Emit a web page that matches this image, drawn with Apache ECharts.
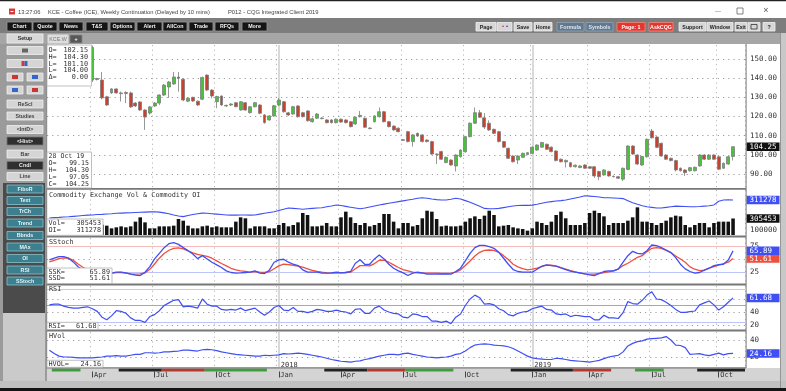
<!DOCTYPE html>
<html>
<head>
<meta charset="utf-8">
<script src="https://cdn.jsdelivr.net/npm/echarts@6/dist/echarts.min.js"></script>
<style>
html,body{margin:0;padding:0;background:#bdbdbd;overflow:hidden}
#chart{width:786px;height:391px}
</style>
</head>
<body>
<div id="chart"></div>
<script>
// ---------------- data ----------------
const firstWeek = '2017-01-30';
const weekCount = 146;
const monthNames = ['Jan','Feb','Mar','Apr','May','Jun','Jul','Aug','Sep','Oct','Nov','Dec'];
const priceTicks = [90,100,110,120,130,140,150];
const volTicks = [100000];
const stochTicks = [75,25];
const rsiTicks = [60,40,20];
const hvolTicks = [40,20];
const dataWindowTop = [['O=','102.15'],['H=','104.30'],['L=','101.10'],['L=','104.00'],['\u0394=','0.00']];

const open = [146,145,143,141,142,140,139,137.5,138,139,
139.8,139,130.3,132.3,134.4,131.9,132.5,132.3,127,127.6,
123.4,121.8,125.5,127,131.2,135.4,137,140.6,139.4,128,
130,128,129,141.6,133.8,127.7,130.7,125.8,126,127.2,
123.4,127.2,122,125.1,126,120.8,118.2,120.3,126,127.7,
121.9,121.3,125.5,122,122.9,117.3,119.1,118.9,118.2,118.2,
116.8,118.6,118.2,117.3,116.1,119.9,119.1,113.7,117.3,119.9,
122.5,117.3,115,113.9,107.9,112.1,106.9,111.2,110.4,107.7,
106.9,100.4,101.7,96,97.3,94.2,99,101.6,109.5,116.5,
122,119.3,116.5,113.3,112.1,106.9,103.4,99.4,97.3,98.7,
100.2,100.8,102.5,104,105.5,104,102,97.7,96.3,95.9,
93.8,93.4,94.7,93.8,93.8,91.3,89.5,91.3,88.8,88.6,
87.3,92.4,104.6,99.9,94.7,99,112.4,109.3,106,99.9,
98.2,97,93,92.1,91.7,91.7,94.2,99.9,97.7,99.9,
99,93,95.2,99.15];
const close = [145,143,141,142,140,139,137.8,138,138.5,156,
139.3,129.7,126,134.4,132.3,132.3,132,125,125.5,123.4,
119.7,125,127,131.2,136.4,138,140.6,140,128.6,129.5,
128.1,126,140.4,133.8,130.7,130.4,126,125.5,126.5,125.1,
127.7,123.4,125.1,127.2,121.7,116.8,120.3,125.6,128.6,122.5,
120.8,125.1,119.9,119.9,117.8,118.8,121.3,119.2,116.8,116.8,
118.6,117.1,116.8,114.7,119.6,120.6,114.4,114,120.3,122.5,
117.3,114.7,113,112.1,107.6,106.9,110.4,109.8,106.9,106.9,
100.4,100.2,97.7,98.7,94.7,99.9,102.5,109.5,116.5,122,
119.6,114.5,113,111.2,106.9,104,98.2,96.4,99.4,100.8,
101.1,104,105.1,106.4,102.9,101.7,97,96.4,97.1,93.8,
94.6,94.2,93,93,89,88.6,92.1,89,88.6,87.8,
93,104.6,100.4,95.2,99.1,108.1,108.9,103.9,99.4,97.7,
97,92.1,91.7,90.7,93.3,93.5,99.9,97.7,99.9,97.7,
92.5,95.6,99,104.25];
const high = [148,147,145,144,143,141,140,138.5,139,157,
140.2,143.2,130.8,134.8,134.6,133,133.2,133,127.5,128,
123.8,125.5,127.6,131.5,137,138.5,143.2,143.2,140,130,
130.3,128.3,140.8,142,134.2,130.8,131,126.2,127,127.6,
128,127.6,125.5,127.6,126.4,121.2,120.7,126,129.6,128.1,
122.4,125.6,125.9,122.4,123.3,119.5,121.8,119.6,118.6,118.6,
119,119,118.6,117.7,120,122.9,119.5,114.3,120.7,124.7,
122.9,117.7,115.4,114.3,108.3,112.5,110.8,111.6,110.8,108.1,
107.3,100.8,102.1,99.1,97.7,100.3,102.9,109.9,116.9,124.7,
123.4,121.8,118,113.7,112.5,107.3,103.8,99.8,99.8,101.2,
101.5,104.4,105.5,106.8,105.9,104.4,102.4,98.1,97.5,96.3,
95,94.6,95.1,94.2,94.2,91.7,92.5,91.7,89.2,89,
93.4,105,105,100.3,99.5,108.5,113.5,109.7,106.4,100.3,
98.6,97.4,93.4,92.5,93.7,93.9,100.3,100.3,100.3,100.3,
99.4,96,99.4,104.3];
const low = [144,142,140,139,139,138,137,136.8,137,138,
138.8,129,125.5,131.8,132,127.8,127,124.5,125,122.9,
113,121,125,126,130.7,129.7,136.5,133,128,127.5,
127.6,125.5,128.5,133.3,129.5,124.3,125.5,125,125.5,124.8,
123,123,121.5,124.7,121.2,116.3,117.8,119.9,125.5,122,
120.3,120.9,119.4,119.5,117.3,116.8,118.7,118.5,116.4,116.4,
116.4,116.7,116.4,114.3,115.7,119.5,114,113.3,116.9,119.5,
116.9,114.3,112.6,111.7,107.2,106.5,104.3,109.4,106.5,106.5,
100,95.2,97.3,95.6,94.3,91.3,98.6,101.2,109.1,116.1,
119.2,113.5,112.5,110.8,106.5,103.6,97.8,96,95.2,98.3,
99.8,100.4,102.1,103.6,102.5,101.3,96.6,96,93.4,93.4,
93.4,93,92.6,92.6,88,86.8,89.1,88.6,88.2,87.4,
86.3,92,100,94.8,94.3,98.6,108.5,103.5,99,97.3,
96.6,91.3,91.3,89,91.3,91.3,93.8,97.3,97.3,97.3,
92.1,92.6,94.8,97.05];
const volume = [170000,150000,160000,180000,175000,165000,150000,160000,170000,200000,180000,190000,
173000,123000,142000,160000,142000,160000,247000,327000,
234000,123000,123000,160000,160000,160000,173000,296000,265000,173000,
123000,123000,160000,173000,142000,160000,142000,142000,142000,247000,
327000,309000,123000,160000,160000,160000,123000,123000,185000,222000,
160000,185000,234000,407000,370000,160000,160000,173000,222000,160000,
160000,327000,432000,327000,222000,185000,222000,
160000,185000,222000,
389000,389000,247000,123000,222000,222000,160000,185000,309000,450000,
432000,296000,160000,173000,160000,160000,173000,247000,309000,345000,
296000,358000,450000,370000,160000,173000,185000,142000,123000,111000,
80000,123000,247000,222000,185000,247000,370000,432000,309000,185000,
185000,185000,222000,407000,450000,407000,345000,185000,222000,222000,
222000,265000,327000,512000,
247000,247000,222000,185000,222000,265000,327000,358000,345000,185000,
142000,185000,222000,222000,142000,222000,247000,247000,247000,305453];
const openInterest = [223000,225000,226000,228000,229000,231000,233000,235000,237000,
238000,240000,241000,243000,244000,246000,247000,
248000,249000,250000,251000,252000,253000,254000,
252000,248000,244000,238000,233000,230000,
235000,240000,244000,247000,
246000,244000,242000,240000,238000,237000,
237000,238000,238000,237000,238000,
242000,246000,250000,254000,
260000,266000,272000,
270000,268000,266000,
268000,270000,272000,273000,
278000,282000,287000,
284000,280000,276000,272000,
268000,272000,
277000,282000,287000,
291000,295000,299000,303000,
307000,311000,315000,320000,
322000,320000,
316000,313000,311000,311000,
315000,320000,
316000,308000,300000,
290000,280000,270000,
268000,268000,270000,
274000,278000,282000,284000,
285000,285000,286000,
290000,295000,300000,
303000,306000,308000,311000,
316000,321000,326000,332000,
330000,328000,326000,322000,
322000,321000,320000,318000,
308000,298000,290000,
283000,278000,275000,272000,
272000,275000,278000,281000,
280000,279000,278000,278000,279000,
281000,283000,287000,
305000,311000,312000,311278];
const stochK = [49,52,55,55,52,45,36,30,26,22,22,24,25,
23.7,25.6,25.6,24.3,21.8,20,19.3,25.6,
36.2,50.6,61.2,71.9,79.3,81.2,78,71.9,66.2,60,
51.2,56.8,50.6,44.4,39.4,34.4,28.1,25,23.7,24.3,
25,25.6,28.1,23.7,23.1,29.4,44.4,48.7,50,44.4,
40.6,38.1,30,25.6,25.6,25.6,23.7,23.7,24.3,25.6,
24.3,25,26.9,42.5,49,40,
40.6,50.6,58.1,50.6,40.6,33.1,28.1,24.4,19.3,23.7,
25.6,24.4,21.8,21.8,21.8,21.8,21.8,21.8,26.9,33.1,
46.8,61.2,71.9,76.2,76.2,73.7,70.6,63,51.9,40.6,
30.6,26.9,25.6,25.6,25.6,31.2,36.9,39.4,38.1,36.9,
33.7,30.6,27.5,25.6,24.4,22.4,20.6,19.3,23.1,26.9,
28.1,28.1,31.2,44.4,56.8,65,61.2,
60,66.2,76.9,75.6,71.9,67.5,62.5,53.1,40.6,31.9,
26.9,23.7,25,29.4,33.1,38.1,40,40.6,48.7,65.89];
const stochD = [45,48,51,52.5,52,48,41,35,30,26,24,23,23,
23.7,24.9,25,23.7,22.4,21.8,22.4,24.3,
31,41,52,61,67,70.6,71.5,69.4,66,62,
59,57.4,55.6,52,47,42,37.5,33,30,28,
27,25.6,26.5,25.6,25,26.5,32,37.5,40.6,40,
38.7,37,35,32,29,27,25.6,24.3,23.7,23.7,
24.3,25,25.6,32,38,38.1,
37.5,41.9,48.1,48.1,44.4,39.4,34.4,30.6,28.1,25.6,
24.4,23.7,23.7,23.7,23.7,23.1,23.1,23.7,25.6,30,
38.1,46.8,56.2,63.1,66.8,67.5,66.8,63.1,56.8,49.4,
40.6,35.6,32.5,30,31.2,33.1,36.2,38.7,38.7,36.9,
34.4,31.2,28.7,26.2,23.7,22.4,21.8,21.8,23.1,25,
26.2,28.1,31.9,38.1,42.5,48.1,53.7,
56.8,64.4,70.6,71.9,70.6,66.8,62.5,56.2,50.6,44.4,
35.6,31.2,28.7,29.4,33.1,36.2,38.7,41.9,44.4,51.61];
const rsi = [51,52,52,49,47,46,46,47,48,45,
41,32,28,34,42,41,38,31,27,27,24,
33,36,42,50,54,58,59,48,49,48,
46,60,52,49,49,44,43,44,43,46,
42,44,46,40,35,40,47,50,43,42,
47,41,41,39,41,44,43,41,41,43,
41,40,37,44,45,38,38,46,49,43,
40,38,37,32,31,37,36,33,33,26,
26,24,26,22,32,37,50,60,66,62,
52,53,51,45,42,36,34,38,40,41,
45,47,49,44,43,37,36,37,33,35,
34,33,33,28,28,35,31,31,30,39,
56,53,52,58,66,71,60,59,55,50,
44,39.5,39.5,40.5,41.5,51,54,57,51,43,
48,55,61.68];
const hvol = [28,24,21,20,20,19.5,19,19,19,19,
19.5,20,21,21,21.5,21,21,22,23,23,
25,25,24.5,25,26,26,26.5,27,28,28,
27.5,27,28.5,29,28.5,27.5,26,25,24,23,
22.5,22,21.5,21,21,22,21.5,22,22.5,24,
23.5,24,24.5,24,23,22,21,20,18.5,17,
16,15,14.5,14,15,15.5,17,18,19.5,21,
22,23,23,22.5,24,24.5,23,22,21,20,
19.5,19,19.5,20,21,23,24,27,31,34,
35,35.5,35,34,33.5,33,32,30,27,24,
21,19,18,17.5,17,17,18.5,18,17,16,
15.5,15,14.5,14,15,16,18,20,21,22,
26,33,36,38,39,41,41.5,42,42.5,44,
40,34,33.5,31,23,23.5,24,22.5,21.5,23,
24.5,22.5,24,24.16];
// trend strip under the chart: [startIndex, endIndex, colour]
const stripStart = [1,15,24,33,58,67,75,97,110,123,136];
const stripEnd   = [6,23,32,45,66,74,84,109,117,128,145];
const stripColor = ['#3f9d3a','#222222','#b5392c','#3f9d3a','#222222','#b5392c','#3f9d3a','#222222','#b5392c','#3f9d3a','#222222'];

// ---------------- derived ----------------
const dates = [];
for (let i = 0; i < weekCount; i++) {
  const d = new Date(Date.parse(firstWeek + 'T00:00:00Z') + i * 7 * 86400000);
  dates.push(d.toISOString().slice(0, 10));
}
const isQuarter = (i) => i > 0 && dates[i].slice(5,7) !== dates[i-1].slice(5,7) && ['01','04','07','10'].indexOf(dates[i].slice(5,7)) >= 0;
const isYear = (i) => i > 0 && dates[i].slice(0,4) !== dates[i-1].slice(0,4);
const yearIdx = dates.map((d,i)=>i).filter(isYear);
const last = close.length - 1;
const ohlc = open.map((o,i)=>[o, close[i], low[i], high[i]]);

const MONO = '"DejaVu Sans Mono", monospace';
const SANS = '"Liberation Sans", Arial, sans-serif';
const BLUE = '#3f4ff4', RED = '#ef4f3d';
const dotted = {color:'#9c9c9c', type:[1.2,4], width:1.1};

// ---------------- chrome graphics ----------------
const G = [];
function rect(x,y,w,h,fill,stroke,z){ G.push({type:'rect', z:(z==null?-10:z), silent:true, shape:{x:x,y:y,width:w,height:h}, style:{fill:fill, stroke:stroke||null, lineWidth:stroke?0.8:0}}); }
function text(x,y,s,o){ o=o||{}; G.push({type:'text', z:(o.z==null?60:o.z), silent:true, x:x, y:y, style:{text:s, fill:o.color||'#222', font:(o.bold?'bold ':'')+(o.size||6)+'px '+(o.family||SANS), align:o.align||'left', verticalAlign:'middle', textAlign:o.align||'left', textVerticalAlign:'middle'}}); }
function button(x,y,w,h,label,fill,color,stroke,z){ z=(z==null?-5:z); rect(x,y,w,h,fill,stroke,z); if(label) text(x+w/2,y+h/2+0.3,label,{align:'center',color:color,bold:true,size:5.3,z:z+1}); }

// window background
rect(0,0,786,391,'#bdbdbd',null,-12);
rect(0,0,786,18,'#ffffff');
rect(0,0,786,1.2,'#222222');
rect(9,8.5,6,6,'#d83a3a');
rect(10.5,11,3,1,'#ffffff',null,-9);
text(18,12.3,'13:27:06',{size:5.8,color:'#444',z:-8});
text(48,12.3,'KCE - Coffee (ICE), Weekly Continuation (Delayed by 10 mins)',{size:5.8,color:'#444',z:-8});
text(228,12.3,'P012 - CQG Integrated Client 2019',{size:5.8,color:'#444',z:-8});
text(718,11,'\u2014',{size:6,color:'#666',align:'center',z:-8});
rect(737,8,6,6,'none','#666',-8);
text(766,11,'\u00d7',{size:9,color:'#555',align:'center',z:-8});
// toolbar
rect(0,18,786,15,'#7d7d7d');
[['Chart',7,25],['Quote',33,24],['News',59,24],['T&S',86,22],['Options',110,25],['Alert',137,25],['AllCon',163,24],['Trade',189,24],['RFQs',215,24],['More',242,25]]
  .forEach(b=>button(b[1],22,b[2],9,b[0],'#151515','#f2f2f2','#9a9a9a'));
[['Page',476,20,'L'],['',497,15,'L'],['Save',514,18,'L'],['Home',534,18,'L'],['Formula',557,27,'S'],['Symbols',586,27,'S'],['Page: 1',617,28,'R'],['AskCQG',649,24,'R'],['Support',679,27,'L'],['Window',707,26,'L'],['Exit',735,12,'L'],['',748,12,'L'],['?',763,12,'L']]
  .forEach(b=>{
    const st = b[3]==='S' ? ['#60798f','#dfe6ee','#90a4b6'] : b[3]==='R' ? ['#e5352c','#ffffff','#f08a84'] : ['#d6d6d6','#222','#f2f2f2'];
    button(b[1],22.5,b[2],8.5,b[0],st[0],st[1],st[2]);
  });
text(502,26.8,'\u2022',{size:6,color:'#d33',z:-4}); text(506,26.8,'\u2022',{size:6,color:'#33c',z:-4});
rect(751,24.5,6,4.5,'none','#333',-4);
// row 3
rect(0,33,786,11,'#a6a6a6');
button(7,34,36,9,'Setup','#d8d8d8','#333','#f0f0f0');
rect(47,34,22,10,'#dedede','#999',-5);
text(58,39.2,'KCE.W',{align:'center',color:'#777',size:5.3,z:-4});
button(70,35,12,8,'+','#575757','#fff','#888');
// sidebar
rect(0,44,47,340,'#9b9b9b');
rect(3,183,42,130,'#4b4b4b',null,-9);
rect(3,313,42,68,'#cacaca',null,-9);
const sideButtons = [
  ['',7,46.5,36,'L'],['',7,59.5,36,'L'],['',7,73,16,'L'],['',27,73,16,'L'],['',7,86,16,'L'],['',27,86,16,'L'],
  ['ReScl',7,100,36,'L'],['Studies',7,112,36,'L'],['<IntD>',7,125.5,36,'L'],['<Hist>',7,137,36,'D'],['Bar',7,150,36,'L'],['Cndl',7,161.5,36,'D'],['Line',7,172.5,36,'L'],
  ['FiboR',7,185,36,'T'],['Text',7,196.5,36,'T'],['TrCh',7,207.5,36,'T'],['Trend',7,219,36,'T'],['Bbnds',7,231.5,36,'T'],['MAx',7,243,36,'T'],['OI',7,254.5,36,'T'],['RSI',7,266,36,'T'],['SStoch',7,277,36,'T']
];
sideButtons.forEach(b=>{
  const st = b[4]==='T' ? ['#3c7f8e','#e6f3f5','#8cc1cc'] : b[4]==='D' ? ['#2f2f2f','#eeeeee','#777'] : ['#d5d5d5','#444','#f0f0f0'];
  button(b[1],b[2],b[3],8,b[0],st[0],st[1],st[2]);
});
rect(22,48.5,6,4,'#666',null,-3);
rect(21.5,61,3,5,'#d33',null,-3); rect(24.5,61,3,5,'#36c',null,-3);
rect(12,75,6,4,'#c33',null,-3); rect(32,75,6,4,'#36c',null,-3);
rect(12,88,6,4,'#36c',null,-3); rect(32,88,6,4,'#c33',null,-3);
// chart background
rect(47,44,733,324,'#ffffff',null,-9);
rect(780,33,6,355,'#c8c8c8',null,-9);
rect(780,33,0.8,355,'#8a8a8a',null,-8);
rect(47,368,733,13,'#d4d4d4',null,-9);
rect(0,381,786,7,'#c1c1c1',null,-9);
rect(0,388,786,3,'#151515',null,-8);
// panel borders
[[188,1.8],[235.6,1.8],[283.6,1.8],[329.6,1.8],[367.3,1.2]].forEach(s=>rect(47,s[0],699,s[1],'#777777',null,50));
rect(46.2,44,1,324,'#8a8a8a',null,50);
rect(745.6,44,1,324,'#777777',null,50);
// info boxes
function box(x,y,w,h){ rect(x,y,w,h,'#ffffff','#b0b0b0',55); }
box(47,45,44.5,41);
dataWindowTop.forEach((r,k)=>{ text(48.5,50+k*6.9,r[0],{family:MONO,size:6.8,color:'#333'}); text(88,50+k*6.9,r[1],{family:MONO,size:6.8,color:'#333',align:'right'}); });
box(47,152,44.5,36);
const ld = dates[last];
text(48.5,156.7,ld.slice(8,10)+' '+monthNames[+ld.slice(5,7)-1]+' '+ld.slice(2,4),{family:MONO,size:6.6,color:'#333'});
[['O=',open[last]],['H=',high[last]],['L=',low[last]],['C=',close[last]]].forEach((r,k)=>{
  text(48.5,163.6+k*6.9,r[0],{family:MONO,size:6.6,color:'#333'});
  text(89,163.6+k*6.9,r[1].toFixed(2),{family:MONO,size:6.6,color:'#333',align:'right'});
});
text(49,195.5,'Commodity Exchange Vol & Commodity OI',{family:MONO,size:6.8,color:'#333'});
box(47,219,56,16.3);
text(48.5,223.3,'Vol=',{family:MONO,size:6.8,color:'#333'}); text(101,223.3,String(volume[last]),{family:MONO,size:6.8,color:'#333',align:'right'});
text(48.5,230.6,'OI=',{family:MONO,size:6.8,color:'#333'}); text(101,230.6,String(openInterest[last]),{family:MONO,size:6.8,color:'#333',align:'right'});
text(49,241.8,'SStoch',{family:MONO,size:6.8,color:'#333'});
box(47,268,65,15.5);
text(48.5,271.8,'SSK=',{family:MONO,size:6.8,color:'#333'}); text(110,271.8,stochK[last].toFixed(2),{family:MONO,size:6.8,color:'#333',align:'right'});
text(48.5,278.4,'SSD=',{family:MONO,size:6.8,color:'#333'}); text(110,278.4,stochD[last].toFixed(2),{family:MONO,size:6.8,color:'#333',align:'right'});
text(49,289.6,'RSI',{family:MONO,size:6.8,color:'#333'});
box(47,322.3,51,7.2);
text(48.5,326,'RSI=',{family:MONO,size:6.8,color:'#333'}); text(96.5,326,rsi[last].toFixed(2),{family:MONO,size:6.8,color:'#333',align:'right'});
text(49,335.8,'HVol',{family:MONO,size:6.8,color:'#333'});
box(47,360.3,56,7);
text(48.5,364,'HVOL=',{family:MONO,size:6.8,color:'#333'}); text(101,364,hvol[last].toFixed(2),{family:MONO,size:6.8,color:'#333',align:'right'});

// ---------------- axes ----------------
const grids = [
  {left:47, top:45, width:698, height:143},
  {left:47, top:190, width:698, height:45},
  {left:47, top:238, width:698, height:45},
  {left:47, top:286, width:698, height:43},
  {left:47, top:332, width:698, height:35},
  {left:47, top:368.5, width:698, height:3}
];
const xAxes = [0,1,2,3,4].map(g=>({
  type:'category', gridIndex:g, data:dates, boundaryGap:true,
  axisLine:{show:false}, axisTick:{show:false}, axisLabel:{show:false},
  splitLine:{show:true, interval:(i)=>isQuarter(i), lineStyle:{color:'#b8b8b8', type:[1.2,3.5], width:1}}
}));
xAxes.push({
  type:'category', gridIndex:4, data:dates, position:'bottom', boundaryGap:true,
  axisLine:{show:false}, axisTick:{show:false}, splitLine:{show:false},
  axisLabel:{inside:true, interval:(i)=>isYear(i), formatter:(v)=>v.slice(0,4), align:'left', verticalAlign:'middle', margin:1.5, padding:[0,0,0,2], fontFamily:MONO, fontSize:7, color:'#333'}
});
xAxes.push({
  type:'category', gridIndex:5, data:dates, boundaryGap:true,
  axisLine:{show:false}, splitLine:{show:false},
  axisTick:{show:true, alignWithLabel:true, interval:(i)=>isQuarter(i), length:6, lineStyle:{color:'#444', width:1}},
  axisLabel:{interval:(i)=>isQuarter(i), formatter:(v)=>monthNames[+v.slice(5,7)-1], align:'left', verticalAlign:'top', margin:0.5, padding:[0,0,0,1.5], fontFamily:MONO, fontSize:7, color:'#333'}
});

function valAxis(grid,min,max,ticks,fmt){
  return {type:'value', gridIndex:grid, position:'right', min:min, max:max,
    axisLine:{show:false}, axisTick:{show:false}, splitLine:{show:false},
    axisLabel:{customValues:ticks, formatter:fmt, margin:5, hideOverlap:false, fontFamily:MONO, fontSize:7.5, color:'#333'}};
}
function tagAxis(grid,min,max,value,label,bg,z){
  return {type:'value', gridIndex:grid, position:'right', min:min, max:max, z:z||5,
    axisLine:{show:false}, axisTick:{show:false}, splitLine:{show:false},
    axisLabel:{customValues:[value], margin:1.5, hideOverlap:false,
      formatter:()=>'{t|'+label+'}',
      rich:{t:{backgroundColor:bg, color:'#ffffff', fontFamily:MONO, fontSize:7.5, lineHeight:8, width:28, padding:[0.5,2,0,3]}}}};
}
const yAxes = [
  valAxis(0,82.7,157.3,priceTicks,(v)=>v.toFixed(2)),
  tagAxis(0,82.7,157.3,close[last],close[last].toFixed(2),'#111111'),
  valAxis(1,0,833000,volTicks,(v)=>String(v)),
  tagAxis(1,0,833000,volume[last],String(volume[last]),'#111111'),
  tagAxis(1,140000,360000,openInterest[last],String(openInterest[last]),BLUE),
  valAxis(2,5.2,90.1,stochTicks,(v)=>String(v)),
  tagAxis(2,5.2,90.1,stochK[last],stochK[last].toFixed(2),BLUE,6),
  tagAxis(2,5.2,90.1,stochD[last],stochD[last].toFixed(2),RED,5),
  valAxis(3,13.85,80,rsiTicks,(v)=>String(v)),
  tagAxis(3,13.85,80,rsi[last],rsi[last].toFixed(2),BLUE),
  valAxis(4,8.2,49.4,hvolTicks,(v)=>String(v)),
  tagAxis(4,8.2,49.4,hvol[last],hvol[last].toFixed(2),BLUE),
  {type:'value', gridIndex:5, min:0, max:1, show:false}
];

function yearLines(){ return yearIdx.map(i=>({xAxis:dates[i], lineStyle:{color:'#d0d0d0', type:'solid', width:1.6}})); }
function hLines(vals, style){ return vals.map(v=>({yAxis:v, lineStyle:style})); }
function marks(data){ return {silent:true, z:1, symbol:['none','none'], label:{show:false}, emphasis:{disabled:true}, animation:false, data:data}; }

const series = [
  {type:'candlestick', xAxisIndex:0, yAxisIndex:0, data:ohlc, barWidth:3.4,
    itemStyle:{color:'#48c23a', color0:'#c9402c', borderColor:'#7d7d7d', borderColor0:'#7d7d7d', borderWidth:0.8},
    markLine:marks(hLines(priceTicks,dotted).concat(yearLines()))},
  {type:'bar', xAxisIndex:1, yAxisIndex:2, data:volume, barWidth:'74%', itemStyle:{color:'#111111'},
    markLine:marks(yearLines())},
  {type:'line', xAxisIndex:1, yAxisIndex:4, data:openInterest, showSymbol:false, lineStyle:{color:BLUE, width:1.1}, itemStyle:{color:BLUE}},
  {type:'line', xAxisIndex:2, yAxisIndex:5, data:stochD, showSymbol:false, lineStyle:{color:RED, width:1.3}, itemStyle:{color:RED},
    markLine:marks([{yAxis:75, lineStyle:{color:'#f6bcbc', type:'solid', width:1.2}},{yAxis:25, lineStyle:{color:'#bcc3f8', type:'solid', width:1.2}}].concat(hLines([50],dotted)).concat(yearLines()))},
  {type:'line', xAxisIndex:2, yAxisIndex:5, data:stochK, showSymbol:false, lineStyle:{color:BLUE, width:1.3}, itemStyle:{color:BLUE}},
  {type:'line', xAxisIndex:3, yAxisIndex:8, data:rsi, showSymbol:false, lineStyle:{color:BLUE, width:1.2}, itemStyle:{color:BLUE},
    markLine:marks([{yAxis:75, lineStyle:{color:'#f6bcbc', type:'solid', width:1.2}},{yAxis:25, lineStyle:{color:'#bcc3f8', type:'solid', width:1.2}},{yAxis:50, lineStyle:{color:'#a8a8a8', type:'solid', width:1}}].concat(hLines(rsiTicks,dotted)).concat(yearLines()))},
  {type:'line', xAxisIndex:4, yAxisIndex:10, data:hvol, showSymbol:false, lineStyle:{color:BLUE, width:1.2}, itemStyle:{color:BLUE},
    markLine:marks(hLines(hvolTicks,dotted).concat(yearLines()))},
  {type:'custom', xAxisIndex:6, yAxisIndex:12, silent:true,
    data:stripStart.map((s,k)=>({value:[s, stripEnd[k]], itemStyle:{color:stripColor[k]}})),
    encode:{x:[0,1]},
    renderItem:function(params, api){
      const p0 = api.coord([api.value(0), 0.5]);
      const p1 = api.coord([api.value(1), 0.5]);
      const bw = api.size([1,0])[0];
      return {type:'rect', shape:{x:p0[0]-bw/2, y:params.coordSys.y, width:p1[0]-p0[0]+bw, height:params.coordSys.height}, style:{fill:api.visual('color')}};
    }}
];

const chart = echarts.init(document.getElementById('chart'), null, {renderer:'canvas', width:786, height:391});
chart.setOption({
  animation:false,
  backgroundColor:'#bdbdbd',
  grid:grids,
  xAxis:xAxes,
  yAxis:yAxes,
  series:series,
  graphic:{elements:G}
});
</script>
</body>
</html>
